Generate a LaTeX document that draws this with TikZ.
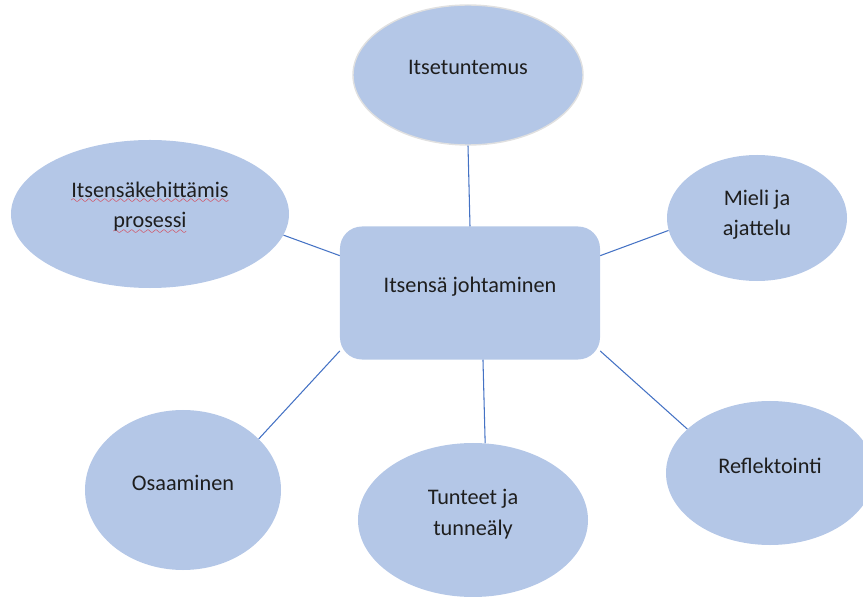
\documentclass[tikz,border=0pt]{standalone}
\usepackage{fontspec}
\setmainfont{Carlito}
\usetikzlibrary{shapes.geometric}
\definecolor{bubblefill}{HTML}{B4C7E7}
\definecolor{spokeline}{HTML}{4472C4}
\definecolor{labeltext}{HTML}{1E1E1E}
\definecolor{spellred}{HTML}{E0202A}
\font\wavefont=lasy10
% red wavy spell-check line under a word
\newcommand{\spellmark}[1]{\leavevmode\setbox0\hbox{#1}%
  \rlap{\hbox to \wd0{\color{spellred}\xleaders\hbox{\lower5.5pt\hbox{\wavefont\char58}}\hfil}}\box0}
% extra depth below the last line, lifts the text a little
\newcommand{\padbelow}[1]{\rule[-#1]{0pt}{0pt}}
\tikzset{
  bubble/.style={ellipse, fill=bubblefill, text=labeltext, inner sep=0pt,
    align=center, font=\fontsize{19}{26}\selectfont},
  hubbox/.style={rectangle, rounded corners=0.66cm, fill=bubblefill, text=labeltext,
    inner sep=0pt, font=\fontsize{19}{26}\selectfont,
    minimum width=7.8cm, minimum height=3.99cm},
  spoke/.style={draw=spokeline, line width=0.9pt}
}

\begin{document}
\begin{tikzpicture}[x=0.03cm, y=-0.03cm]
        \useasboundingbox (0,0) rectangle (863,597);
        \node[hubbox, text height=16pt, text depth=16pt] (H) at (470,293) {Itsensä johtaminen};
        \node[bubble, draw=black!12, line width=1.2pt, minimum width=6.9cm, minimum height=4.2cm,
          text height=16pt, text depth=16pt] (T) at (468,75) {Itsetuntemus};
        \node[bubble, minimum width=8.34cm, minimum height=4.44cm] (L) at (150,214)
          {\spellmark{Itsensäkehittämis}\\\spellmark{prosessi}\padbelow{16pt}};
        \node[bubble, minimum width=5.4cm, minimum height=3.78cm] (R) at (757,218)
          {Mieli ja\\ajattelu\padbelow{9pt}};
        \node[bubble, minimum width=6.24cm, minimum height=4.32cm,
          text height=16pt, text depth=16pt] (RB) at (770,473) {Reflektointi};
        \node[bubble, minimum width=6.9cm, minimum height=4.62cm] (B) at (473,520)
          {Tunteet ja\\tunneäly\padbelow{13pt}};
        \node[bubble, minimum width=5.88cm, minimum height=4.8cm,
          text height=16pt, text depth=16pt] (LB) at (183,490) {Osaaminen};
        \draw[spoke] (H.north) to (T.south);
        \draw[spoke] (H.164.7) to (L.-9);
        \draw[spoke] (H.16.6) to (R.188.5);
        \draw[spoke] (H.204.5) to (LB.34.2);
        \draw[spoke] (H.281) to (B.81.7);
        \draw[spoke] (H.336) to (RB.152.3);
      \end{tikzpicture}
\end{document}
